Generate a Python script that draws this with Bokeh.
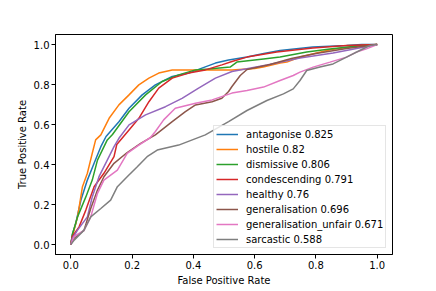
from bokeh.plotting import figure
from bokeh.models import Range1d, FixedTicker, NumeralTickFormatter, Legend, LegendItem
from bokeh.embed import file_html
from bokeh.resources import INLINE

names = ["antagonise", "hostile", "dismissive", "condescending", "healthy",
         "generalisation", "generalisation_unfair", "sarcastic"]
aucs = ["0.825", "0.82", "0.806", "0.791", "0.76", "0.696", "0.671", "0.588"]
colors = ["#1f77b4", "#ff7f0e", "#2ca02c", "#d62728", "#9467bd",
          "#8c564b", "#e377c2", "#7f7f7f"]
ticks = [0.0, 0.2, 0.4, 0.6, 0.8, 1.0]

fpr_antagonise = [0, .005, .016, .033, .054, .076, .098, .115, .157, .19, .233, .276, .331, .385, .428, .472, .515, .575, .63, .683, .79, .9, .95, 1]
tpr_antagonise = [0, .05, .105, .222, .322, .406, .489, .54, .614, .681, .748, .798, .84, .857, .882, .907, .923, .937, .955, .97, .987, .995, 1, 1]

fpr_hostile = [0, .005, .022, .038, .054, .07, .081, .098, .125, .157, .19, .222, .255, .287, .331, .407, .526, .6, .628, .683, .705, .748, .85, .95, 1]
tpr_hostile = [0, .04, .138, .289, .356, .456, .523, .548, .631, .698, .748, .798, .832, .857, .873, .873, .873, .88, .887, .907, .912, .937, .975, .995, 1]

fpr_dismissive = [0, .005, .022, .049, .07, .087, .119, .136, .19, .244, .298, .352, .407, .45, .52, .542, .629, .683, .77, .846, .92, 1]
tpr_dismissive = [0, .05, .138, .238, .322, .422, .523, .55, .664, .748, .815, .848, .873, .878, .887, .912, .928, .937, .962, .978, .99, 1]

fpr_condescending = [0, .005, .027, .049, .076, .108, .141, .15, .19, .222, .255, .287, .331, .385, .439, .493, .526, .575, .672, .79, .9, 1]
tpr_condescending = [0, .04, .088, .172, .289, .356, .439, .5, .573, .631, .714, .782, .832, .857, .873, .898, .915, .937, .962, .983, .995, 1]

fpr_healthy = [0, .005, .022, .054, .07, .092, .119, .141, .157, .19, .244, .309, .363, .417, .472, .526, .64, .748, .856, .95, 1]
tpr_healthy = [0, .03, .072, .138, .238, .339, .422, .489, .531, .598, .648, .689, .731, .782, .832, .865, .898, .932, .957, .985, 1]

fpr_generalisation = [0, .01, .043, .065, .087, .108, .141, .184, .228, .276, .331, .374, .407, .461, .493, .515, .526, .553, .575, .65, .72, .8, .9, 1]
tpr_generalisation = [0, .03, .07, .18, .272, .339, .406, .46, .506, .548, .614, .664, .698, .714, .731, .765, .79, .845, .875, .9, .93, .955, .98, 1]

fpr_unfair = [0, .011, .043, .065, .087, .108, .152, .184, .222, .26, .276, .303, .341, .407, .461, .526, .575, .629, .683, .726, .748, .791, .846, .9, .932, .965, 1]
tpr_unfair = [0, .04, .07, .138, .256, .322, .372, .456, .497, .535, .565, .623, .681, .706, .723, .757, .77, .787, .82, .845, .862, .887, .912, .937, .962, .978, 1]

fpr_sarcastic = [0, .011, .043, .065, .098, .13, .152, .184, .217, .249, .282, .352, .439, .515, .575, .64, .694, .726, .748, .77, .813, .856, .9, .943, .976, 1]
tpr_sarcastic = [0, .022, .072, .138, .18, .222, .289, .339, .389, .439, .472, .497, .548, .614, .67, .72, .753, .778, .82, .87, .887, .903, .937, .97, .995, 1]

fprs = [fpr_antagonise, fpr_hostile, fpr_dismissive, fpr_condescending, fpr_healthy,
        fpr_generalisation, fpr_unfair, fpr_sarcastic]
tprs = [tpr_antagonise, tpr_hostile, tpr_dismissive, tpr_condescending, tpr_healthy,
        tpr_generalisation, tpr_unfair, tpr_sarcastic]

FONT = "DejaVu Sans"

p = figure(width=436, height=291, output_backend="svg", toolbar_location=None,
           x_range=Range1d(-0.05, 1.05), y_range=Range1d(-0.05, 1.05),
           min_border_left=55, min_border_right=44, min_border_top=34, min_border_bottom=37,
           background_fill_color="white", border_fill_color="white")

items = []
for n, a, c, fx, fy in zip(names, aucs, colors, fprs, tprs):
    r = p.line(fx, fy, line_color=c, line_width=1.5)
    items.append(LegendItem(label=f"{n} {a}", renderers=[r]))

legend = Legend(items=items, location=(158, 6), margin=0, padding=2, spacing=3,
                glyph_width=22, glyph_height=12, label_height=12, label_standoff=8,
                label_text_font=FONT, label_text_font_size="10px", label_text_color="black",
                border_line_color="#cccccc", border_line_width=1,
                background_fill_color="white", background_fill_alpha=0.8)
p.add_layout(legend)

for ax in (p.xaxis, p.yaxis):
    ax.ticker = FixedTicker(ticks=ticks)
    ax.formatter = NumeralTickFormatter(format="0.0")
    ax.major_label_text_font = FONT
    ax.major_label_text_font_size = "10px"
    ax.major_label_text_color = "black"
    ax.axis_label_text_font = FONT
    ax.axis_label_text_font_size = "10px"
    ax.axis_label_text_font_style = "normal"
    ax.axis_label_text_color = "black"
    ax.major_tick_in = 0
    ax.major_tick_out = 4
    ax.major_tick_line_color = "black"
    ax.minor_tick_line_color = None
    ax.axis_line_color = "black"
    ax.major_label_standoff = 2
    ax.axis_label_standoff = 3

p.xaxis.axis_label = "False Positive Rate"
p.yaxis.axis_label = "True Positive Rate"
p.grid.visible = False
p.outline_line_color = "black"
p.outline_line_width = 1

open("out.html", "w").write(file_html(p, INLINE))
